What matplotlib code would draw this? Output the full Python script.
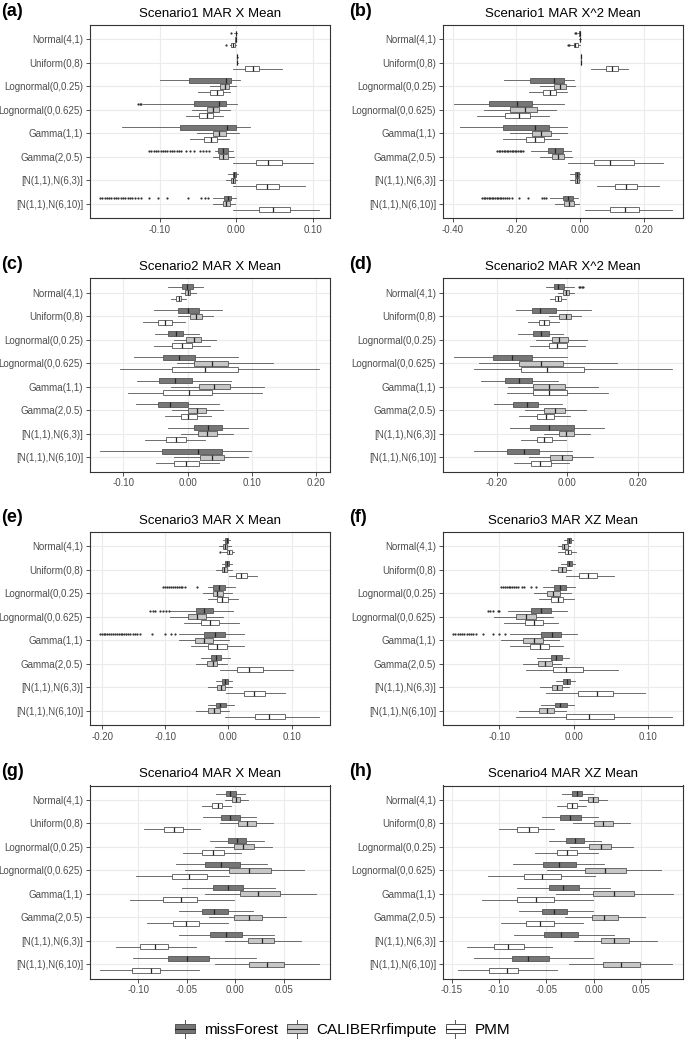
import matplotlib
matplotlib.use("Agg")
import matplotlib.pyplot as plt
from matplotlib.patches import Patch, Rectangle
from matplotlib.lines import Line2D
from matplotlib.legend_handler import HandlerBase

plt.rcParams['font.family'] = ['Liberation Sans', 'DejaVu Sans']

## categories and methods
categories = ["Normal(4,1)", "Uniform(0,8)", "Lognormal(0,0.25)", "Lognormal(0,0.625)",
              "Gamma(1,1)", "Gamma(2,0.5)", "[N(1,1),N(6,3)]", "[N(1,1),N(6,10)]"]
methods = ["missForest", "CALIBERrfimpute", "PMM"]
fills = ["#767676", "#c6c6c6", "#ffffff"]
LINE = "#555555"
MED = "#262626"

## box stats per category: whisker low, q1, median, q3, whisker high
a_mf = [[-0.003, -0.001, -0.0005, 0.0, 0.0005], [0.0005, 0.0008, 0.001, 0.0012, 0.0015],
        [-0.100, -0.062, -0.014, -0.0065, 0.004], [-0.122, -0.056, -0.023, -0.013, 0.001],
        [-0.149, -0.073, -0.012, 0.000, 0.018], [-0.028, -0.024, -0.017, -0.011, -0.005],
        [-0.011, -0.005, -0.003, 0.000, 0.002], [-0.030, -0.016, -0.011, -0.0065, 0.000]]
a_cal = [[-0.002, -0.0015, -0.001, -0.0005, 0.0], [0.0005, 0.0008, 0.001, 0.0012, 0.0015],
         [-0.035, -0.022, -0.015, -0.0096, 0.000], [-0.058, -0.039, -0.030, -0.023, -0.009],
         [-0.052, -0.031, -0.023, -0.013, 0.0035], [-0.031, -0.023, -0.017, -0.011, -0.0035],
         [-0.014, -0.007, -0.004, -0.002, 0.001], [-0.030, -0.018, -0.013, -0.009, -0.002]]
a_pmm = [[-0.009, -0.0065, -0.004, -0.002, 0.000], [-0.004, 0.011, 0.022, 0.030, 0.059],
         [-0.050, -0.034, -0.026, -0.018, -0.009], [-0.066, -0.049, -0.039, -0.031, -0.018],
         [-0.061, -0.042, -0.033, -0.025, -0.0096], [-0.004, 0.025, 0.041, 0.059, 0.100],
         [-0.004, 0.025, 0.040, 0.056, 0.090], [-0.005, 0.030, 0.048, 0.070, 0.108]]
a_fliers = {(0, 0): [-0.0065], (0, 2): [-0.013],
            (3, 0): [-0.128, -0.126, -0.124],
            (5, 0): [-0.114, -0.111, -0.108, -0.105, -0.102, -0.099, -0.096, -0.093, -0.090, -0.087,
                     -0.084, -0.081, -0.078, -0.075, -0.072, -0.066, -0.060, -0.055, -0.048, -0.044,
                     -0.040, -0.036],
            (7, 0): [-0.178, -0.175, -0.172, -0.169, -0.166, -0.163, -0.160, -0.157, -0.154, -0.151,
                     -0.148, -0.145, -0.142, -0.139, -0.136, -0.132, -0.128, -0.124, -0.114, -0.102,
                     -0.091, -0.063, -0.046, -0.041, -0.037]}

b_mf = [[-0.008, -0.004, -0.002, -0.001, 0.0], [0.001, 0.0015, 0.002, 0.0025, 0.003],
        [-0.240, -0.158, -0.081, -0.052, -0.018], [-0.396, -0.286, -0.198, -0.150, -0.052],
        [-0.377, -0.242, -0.141, -0.099, -0.042], [-0.154, -0.102, -0.078, -0.054, -0.029],
        [-0.031, -0.016, -0.010, -0.004, 0.0], [-0.096, -0.055, -0.0385, -0.024, -0.008]]
b_cal = [[-0.004, -0.002, -0.001, 0.0, 0.001], [0.001, 0.0015, 0.002, 0.0025, 0.003],
         [-0.127, -0.083, -0.0625, -0.044, -0.016], [-0.302, -0.219, -0.172, -0.135, -0.075],
         [-0.219, -0.151, -0.122, -0.092, -0.042], [-0.127, -0.089, -0.070, -0.050, -0.026],
         [-0.031, -0.016, -0.010, -0.004, 0.0], [-0.078, -0.050, -0.036, -0.021, -0.005]]
b_pmm = [[-0.031, -0.021, -0.015, -0.008, -0.002], [0.033, 0.081, 0.099, 0.117, 0.151],
         [-0.161, -0.117, -0.096, -0.075, -0.042], [-0.325, -0.236, -0.193, -0.158, -0.097],
         [-0.242, -0.170, -0.141, -0.1125, -0.065], [-0.0385, 0.044, 0.092, 0.167, 0.260],
         [0.054, 0.109, 0.143, 0.177, 0.248], [0.0156, 0.092, 0.141, 0.185, 0.286]]
b_fliers = {(0, 0): [-0.016, -0.012], (0, 2): [-0.039, -0.035],
            (5, 0): [-0.260, -0.255, -0.250, -0.245, -0.240, -0.235, -0.230, -0.225, -0.220, -0.215,
                     -0.210, -0.205, -0.200, -0.195, -0.190, -0.185, -0.180],
            (7, 0): [-0.307, -0.302, -0.297, -0.292, -0.287, -0.282, -0.277, -0.272, -0.267, -0.262,
                     -0.257, -0.252, -0.247, -0.242, -0.236, -0.230, -0.222, -0.214, -0.193, -0.164,
                     -0.120, -0.112, -0.106]}

c_mf = [[-0.031, -0.0093, -0.001, 0.0078, 0.024], [-0.052, -0.0155, 0.0, 0.017, 0.053],
        [-0.051, -0.031, -0.019, -0.007, 0.017], [-0.083, -0.039, -0.014, 0.011, 0.078],
        [-0.079, -0.044, -0.020, 0.007, 0.067], [-0.080, -0.047, -0.027, 0.001, 0.048],
        [-0.030, 0.010, 0.032, 0.053, 0.094], [-0.136, -0.040, 0.0166, 0.053, 0.098]]
c_cal = [[-0.010, -0.0036, 0.0, 0.004, 0.012], [-0.0155, 0.0036, 0.013, 0.022, 0.039],
         [-0.021, -0.0026, 0.009, 0.020, 0.044], [-0.017, 0.009, 0.037, 0.063, 0.132],
         [-0.026, 0.017, 0.040, 0.065, 0.118], [-0.025, 0.0, 0.0145, 0.0285, 0.054],
         [-0.010, 0.016, 0.0295, 0.046, 0.071], [-0.021, 0.019, 0.038, 0.0565, 0.094]]
c_pmm = [[-0.026, -0.018, -0.014, -0.010, -0.0026], [-0.069, -0.047, -0.035, -0.025, -0.005],
         [-0.053, -0.025, -0.009, 0.007, 0.035], [-0.106, -0.025, 0.027, 0.078, 0.204],
         [-0.093, -0.038, 0.0016, 0.037, 0.116], [-0.035, -0.011, 0.001, 0.0145, 0.036],
         [-0.067, -0.034, -0.018, -0.0026, 0.027], [-0.050, -0.022, -0.0026, 0.0176, 0.049]]
c_fliers = {}

d_mf = [[-0.060, -0.038, -0.026, -0.0095, 0.021], [-0.145, -0.100, -0.076, -0.031, 0.068],
        [-0.138, -0.097, -0.074, -0.052, -0.0104], [-0.322, -0.211, -0.157, -0.099, -0.001],
        [-0.244, -0.175, -0.135, -0.099, -0.025], [-0.208, -0.152, -0.114, -0.082, -0.015],
        [-0.162, -0.104, -0.050, 0.021, 0.104], [-0.265, -0.171, -0.123, -0.080, 0.014]]
d_cal = [[-0.026, -0.012, -0.003, 0.005, 0.021], [-0.052, -0.022, -0.003, 0.011, 0.040],
         [-0.088, -0.0435, -0.022, 0.002, 0.057], [-0.249, -0.137, -0.074, -0.012, 0.142],
         [-0.168, -0.0955, -0.052, -0.0066, 0.087], [-0.118, -0.064, -0.033, -0.006, 0.054],
         [-0.064, -0.0236, -0.003, 0.021, 0.065], [-0.109, -0.048, -0.015, 0.014, 0.075]]
d_pmm = [[-0.048, -0.033, -0.026, -0.017, -0.003], [-0.112, -0.080, -0.064, -0.050, -0.022],
         [-0.104, -0.052, -0.028, -0.001, 0.051], [-0.265, -0.130, -0.057, 0.047, 0.297],
         [-0.171, -0.097, -0.052, -0.001, 0.115], [-0.135, -0.085, -0.060, -0.038, 0.0085],
         [-0.130, -0.086, -0.066, -0.0425, -0.003], [-0.151, -0.102, -0.076, -0.045, 0.0066]]
d_fliers = {(0, 0): [0.035, 0.038, 0.041, 0.044]}

e_mf = [[-0.009, -0.006, -0.0026, 0.0, 0.0026], [-0.0105, -0.005, -0.0016, 0.0016, 0.005],
        [-0.032, -0.024, -0.015, -0.006, 0.0105], [-0.092, -0.052, -0.0385, -0.024, 0.008],
        [-0.078, -0.038, -0.021, -0.006, 0.024], [-0.044, -0.028, -0.0195, -0.0116, 0.0026],
        [-0.020, -0.0095, -0.005, 0.0, 0.006], [-0.033, -0.0195, -0.013, -0.004, 0.0095]]
e_cal = [[-0.015, -0.008, -0.005, -0.0016, 0.004], [-0.0195, -0.0105, -0.007, -0.0016, 0.005],
         [-0.041, -0.025, -0.0174, -0.009, 0.005], [-0.092, -0.064, -0.050, -0.035, -0.009],
         [-0.079, -0.053, -0.0385, -0.024, 0.0016], [-0.051, -0.034, -0.025, -0.0174, -0.0026],
         [-0.032, -0.018, -0.012, -0.006, 0.006], [-0.051, -0.032, -0.023, -0.014, 0.0016]]
e_pmm = [[-0.0105, -0.0016, 0.0016, 0.005, 0.0095], [0.0016, 0.012, 0.0195, 0.029, 0.045],
         [-0.033, -0.018, -0.0095, -0.001, 0.015], [-0.071, -0.043, -0.030, -0.015, 0.016],
         [-0.060, -0.032, -0.0174, -0.0026, 0.025], [-0.013, 0.014, 0.033, 0.054, 0.102],
         [-0.004, 0.024, 0.041, 0.058, 0.089], [-0.006, 0.042, 0.065, 0.089, 0.144]]
e_fliers = {(0, 2): [-0.013],
            (2, 0): [-0.103, -0.100, -0.097, -0.094, -0.091, -0.088, -0.085, -0.082, -0.079, -0.076,
                     -0.073, -0.069, -0.050],
            (3, 0): [-0.124, -0.120, -0.116, -0.108, -0.104, -0.099, -0.095],
            (4, 0): [-0.204, -0.201, -0.198, -0.195, -0.192, -0.189, -0.186, -0.183, -0.180, -0.177,
                     -0.174, -0.171, -0.168, -0.165, -0.162, -0.159, -0.156, -0.152, -0.148, -0.145,
                     -0.140, -0.121, -0.100, -0.091, -0.084]}

f_mf = [[-0.0125, -0.0085, -0.006, -0.0036, -0.0013], [-0.017, -0.0094, -0.006, -0.0027, 0.001],
        [-0.041, -0.027, -0.018, -0.010, 0.0018], [-0.0886, -0.058, -0.044, -0.030, -0.0094],
        [-0.086, -0.0447, -0.0295, -0.017, 0.004], [-0.050, -0.031, -0.0237, -0.016, -0.0067],
        [-0.0237, -0.0139, -0.0094, -0.005, 0.001], [-0.0447, -0.025, -0.018, -0.0094, 0.0]]
f_cal = [[-0.0215, -0.0157, -0.0125, -0.008, -0.005], [-0.031, -0.0206, -0.0157, -0.010, -0.0036],
         [-0.054, -0.036, -0.028, -0.019, -0.0036], [-0.107, -0.077, -0.064, -0.0506, -0.028],
         [-0.098, -0.068, -0.0537, -0.0407, -0.020], [-0.0676, -0.048, -0.0385, -0.0295, -0.017],
         [-0.046, -0.0295, -0.0228, -0.0157, -0.006], [-0.073, -0.047, -0.036, -0.027, -0.011]]
f_pmm = [[-0.0215, -0.0116, -0.008, -0.0036, 0.003], [-0.011, 0.0076, 0.0188, 0.031, 0.0546],
         [-0.047, -0.031, -0.0215, -0.0139, 0.0], [-0.094, -0.065, -0.053, -0.0416, -0.0206],
         [-0.086, -0.0586, -0.046, -0.0336, -0.0148], [-0.064, -0.028, -0.0103, 0.013, 0.059],
         [-0.037, 0.0054, 0.031, 0.053, 0.095], [-0.077, -0.011, 0.021, 0.0546, 0.1315]]
f_fliers = {(2, 0): [-0.0975, -0.095, -0.0925, -0.090, -0.0875, -0.085, -0.0825, -0.080, -0.0775,
                     -0.075, -0.070, -0.067, -0.057, -0.0506],
            (3, 0): [-0.115, -0.112, -0.109, -0.102, -0.100],
            (4, 0): [-0.162, -0.159, -0.156, -0.153, -0.150, -0.147, -0.144, -0.141, -0.138, -0.135,
                     -0.131, -0.122, -0.109, -0.101, -0.092]}

g_mf = [[-0.0197, -0.0093, -0.005, 0.0007, 0.0103], [-0.033, -0.0148, -0.005, 0.0052, 0.0217],
        [-0.0259, -0.0079, 0.0017, 0.0114, 0.030], [-0.061, -0.031, -0.0145, 0.0045, 0.0328],
        [-0.055, -0.0234, -0.0079, 0.0079, 0.041], [-0.0576, -0.0338, -0.0214, -0.0076, 0.0183],
        [-0.0576, -0.0259, -0.0097, 0.0069, 0.0397], [-0.1055, -0.069, -0.050, -0.0273, 0.0218]]
g_cal = [[-0.011, -0.0034, 0.001, 0.0052, 0.0128], [-0.0155, 0.0034, 0.012, 0.0217, 0.039],
         [-0.021, -0.0017, 0.0086, 0.019, 0.038], [-0.0517, -0.0059, 0.0145, 0.037, 0.0707],
         [-0.031, 0.0045, 0.024, 0.0459, 0.0838], [-0.0266, -0.0007, 0.0138, 0.0276, 0.0524],
         [-0.011, 0.0128, 0.0276, 0.0403, 0.0683], [-0.0205, 0.0145, 0.0327, 0.050, 0.0864]]
g_pmm = [[-0.034, -0.024, -0.018, -0.0138, -0.004], [-0.094, -0.074, -0.063, -0.054, -0.036],
         [-0.054, -0.0345, -0.0234, -0.012, 0.0059], [-0.1024, -0.065, -0.0476, -0.0286, -0.0059],
         [-0.1086, -0.0748, -0.056, -0.039, -0.0017], [-0.0907, -0.0638, -0.0507, -0.0369, -0.0076],
         [-0.123, -0.0983, -0.0828, -0.069, -0.0407], [-0.140, -0.1068, -0.087, -0.078, -0.0373]]
g_fliers = {}

h_mf = [[-0.0339, -0.0226, -0.0173, -0.012, -0.0014], [-0.0544, -0.0357, -0.025, -0.0138, 0.0039],
        [-0.0473, -0.0296, -0.0198, -0.0102, 0.0078], [-0.085, -0.0533, -0.0364, -0.0187, 0.0102],
        [-0.0815, -0.047, -0.032, -0.0155, 0.0173], [-0.0787, -0.0544, -0.0417, -0.0279, -0.0014],
        [-0.084, -0.0522, -0.035, -0.017, 0.0208], [-0.126, -0.0864, -0.069, -0.0477, -0.001]]
h_cal = [[-0.016, -0.0064, -0.001, 0.0042, 0.0138], [-0.0215, 0.0, 0.0095, 0.0198, 0.0378],
         [-0.025, -0.0046, 0.0074, 0.018, 0.0413], [-0.0498, -0.0092, 0.0113, 0.0339, 0.071],
         [-0.040, -0.0014, 0.0208, 0.042, 0.0837], [-0.0304, -0.0021, 0.011, 0.0254, 0.0537],
         [-0.0208, 0.0074, 0.0215, 0.0374, 0.0667], [-0.0264, 0.010, 0.0286, 0.0486, 0.0827]]
h_pmm = [[-0.039, -0.0286, -0.0233, -0.018, -0.008], [-0.100, -0.0805, -0.0685, -0.0586, -0.0417],
         [-0.062, -0.039, -0.0279, -0.0173, 0.0042], [-0.1115, -0.0734, -0.0544, -0.0346, 0.0014],
         [-0.1175, -0.0815, -0.0614, -0.042, -0.001], [-0.098, -0.071, -0.0568, -0.042, -0.011],
         [-0.1338, -0.1055, -0.0904, -0.0734, -0.0445], [-0.143, -0.110, -0.092, -0.0800, -0.0386]]
h_fliers = {}

titles = ["Scenario1 MAR X Mean", "Scenario1 MAR X^2 Mean", "Scenario2 MAR X Mean",
          "Scenario2 MAR X^2 Mean", "Scenario3 MAR X Mean", "Scenario3 MAR XZ Mean",
          "Scenario4 MAR X Mean", "Scenario4 MAR XZ Mean"]
labels = ["(a)", "(b)", "(c)", "(d)", "(e)", "(f)", "(g)", "(h)"]
xticks = [[-0.10, 0.00, 0.10], [-0.40, -0.20, 0.00, 0.20], [-0.10, 0.00, 0.10, 0.20],
          [-0.20, 0.00, 0.20], [-0.20, -0.10, 0.00, 0.10], [-0.10, 0.00, 0.10],
          [-0.10, -0.05, 0.00, 0.05], [-0.15, -0.10, -0.05, 0.00, 0.05]]
xlims = [(-0.191, 0.122), (-0.430, 0.322), (-0.152, 0.221), (-0.352, 0.329),
         (-0.2195, 0.161), (-0.1756, 0.1466), (-0.150, 0.098), (-0.159, 0.094)]

stats = [(a_mf, a_cal, a_pmm), (b_mf, b_cal, b_pmm), (c_mf, c_cal, c_pmm), (d_mf, d_cal, d_pmm),
         (e_mf, e_cal, e_pmm), (f_mf, f_cal, f_pmm), (g_mf, g_cal, g_pmm), (h_mf, h_cal, h_pmm)]
fliers = [a_fliers, b_fliers, c_fliers, d_fliers, e_fliers, f_fliers, g_fliers, h_fliers]


class BoxKey(HandlerBase):
    def create_artists(self, legend, orig_handle, xdescent, ydescent, width, height, fontsize, trans):
        x0, y0 = -xdescent, -ydescent
        whisk = Line2D([x0 + width / 2] * 2, [y0 - 0.25 * height, y0 + 1.25 * height],
                       color=LINE, lw=0.7, transform=trans)
        box = Rectangle((x0, y0 + 0.1 * height), width, 0.8 * height,
                        facecolor=orig_handle.get_facecolor(), edgecolor=LINE, lw=0.7, transform=trans)
        med = Line2D([x0, x0 + width], [y0 + 0.5 * height] * 2, color=MED, lw=0.8, transform=trans)
        return [whisk, box, med]


W, H = 685, 1042
fig = plt.figure(figsize=(W / 100, H / 100), dpi=100)

for k in range(8):
    col, row = k % 2, k // 2
    left = 90 if col == 0 else 443
    top = 25 + row * 253.5
    ax = fig.add_axes([left / W, 1 - (top + 193) / H, 240 / W, 193 / H])
    for m in range(3):
        rows = []
        for i, s in enumerate(stats[k][m]):
            rows.append(dict(whislo=s[0], q1=s[1], med=s[2], q3=s[3], whishi=s[4],
                             fliers=fliers[k].get((i, m), [])))
        pos = [i + 1 + (m - 1) * 0.25 for i in range(8)]
        ax.bxp(rows, positions=pos, widths=0.21, orientation='horizontal', patch_artist=True,
               showcaps=False, manage_ticks=False,
               boxprops=dict(facecolor=fills[m], edgecolor=LINE, linewidth=0.6),
               whiskerprops=dict(color=LINE, linewidth=0.6),
               medianprops=dict(color=MED, linewidth=0.9),
               flierprops=dict(marker='o', markersize=1.6, markerfacecolor='#333333',
                               markeredgewidth=0, linestyle='none'))
    ax.set_yticks(range(1, 9))
    ax.set_yticklabels(categories)
    ax.set_ylim(8.6, 0.4)
    ax.set_xticks(xticks[k])
    ax.set_xticklabels(["%.2f" % t for t in xticks[k]])
    ax.set_xlim(xlims[k])
    ax.grid(True, color='#ebebeb', linewidth=0.8)
    ax.set_axisbelow(True)
    for sp in ax.spines.values():
        sp.set_color('#333333')
        sp.set_linewidth(0.8)
    ax.tick_params(labelsize=7, labelcolor='#4d4d4d', color='#333333', length=3, width=0.6, pad=2)
    ax.set_title(titles[k], fontsize=9.5, pad=6)
    fig.text((1 if col == 0 else 349) / W, 1 - (top - 14) / H, labels[k],
             fontsize=13, fontweight='bold', va='center', ha='left')

handles = [Patch(facecolor=f) for f in fills]
fig.legend(handles, methods, handler_map={Patch: BoxKey()}, loc='center',
           bbox_to_anchor=(0.5, 1 - 1030 / H), ncol=3, frameon=False, fontsize=11,
           handlelength=1.3, handleheight=0.8, handletextpad=0.6, columnspacing=0.6)

fig.savefig("out.png", dpi=100)
